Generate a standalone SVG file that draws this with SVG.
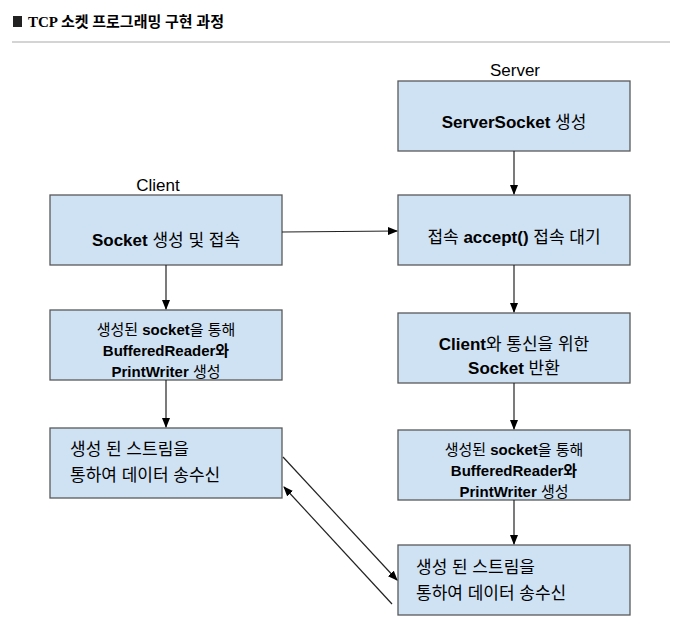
<svg xmlns="http://www.w3.org/2000/svg" width="677" height="629" viewBox="0 0 677 629">
<style>
.b{fill:#cfe2f3;stroke:#595959;stroke-width:1.3}
.t{font-family:"Liberation Sans","Noto Sans CJK KR",sans-serif;font-size:17px;fill:#000}
.s{font-family:"Liberation Sans","Noto Sans CJK KR",sans-serif;font-size:15px;fill:#000}
.c line{stroke:#222;stroke-width:1.2;marker-end:url(#a)}
</style>
<defs><marker id="a" markerWidth="10" markerHeight="8" refX="9" refY="4" orient="auto" markerUnits="userSpaceOnUse"><path d="M0,0L10,4L0,8z" fill="#000"/></marker></defs>
<rect width="677" height="629" fill="#fff"/>
<g id="title"><rect x="13" y="16" width="9" height="11" fill="#222"/><text x="28" y="27" font-family="Liberation Serif,'Noto Sans CJK KR',serif" font-size="15" font-weight="bold">TCP 소켓 프로그래밍 구현 과정</text>
<line x1="12" y1="42" x2="670" y2="42" stroke="#aaa" stroke-width="1.2"/></g>
<text class="t" x="515" y="76" text-anchor="middle">Server</text>
<text class="t" x="158" y="191" text-anchor="middle">Client</text>
<g id="s1"><rect class="b" x="398" y="81" width="232" height="70"/><text class="t" x="514" y="128" text-anchor="middle"><tspan font-weight="bold">ServerSocket</tspan> 생성</text></g>
<g id="c1"><rect class="b" x="50" y="195" width="232" height="70"/><text class="t" x="166" y="246" text-anchor="middle"><tspan font-weight="bold">Socket</tspan> 생성 및 접속</text></g>
<g id="s2"><rect class="b" x="398" y="195" width="232" height="70"/><text class="t" x="514" y="243" text-anchor="middle">접속 <tspan font-weight="bold">accept()</tspan> 접속 대기</text></g>
<g id="c2"><rect class="b" x="50" y="310" width="232" height="70"/><text class="s" x="166" y="335" text-anchor="middle">생성된 <tspan font-weight="bold">socket</tspan>을 통해</text><text class="s" x="166" y="356" text-anchor="middle" font-weight="bold">BufferedReader와</text><text class="s" x="166" y="377" text-anchor="middle"><tspan font-weight="bold">PrintWriter</tspan> 생성</text></g>
<g id="s3"><rect class="b" x="398" y="313" width="232" height="70"/><text class="t" x="514" y="350" text-anchor="middle"><tspan font-weight="bold">Client</tspan>와 통신을 위한</text><text class="t" x="514" y="374" text-anchor="middle"><tspan font-weight="bold">Socket</tspan> 반환</text></g>
<g id="c3"><rect class="b" x="50" y="428" width="232" height="70"/><text class="t" x="70" y="455">생성 된 스트림을</text><text class="t" x="70" y="481">통하여 데이터 송수신</text></g>
<g id="s4"><rect class="b" x="398" y="430" width="232" height="70"/><text class="s" x="514" y="455" text-anchor="middle">생성된 <tspan font-weight="bold">socket</tspan>을 통해</text><text class="s" x="514" y="476" text-anchor="middle" font-weight="bold">BufferedReader와</text><text class="s" x="514" y="497" text-anchor="middle"><tspan font-weight="bold">PrintWriter</tspan> 생성</text></g>
<g id="s5"><rect class="b" x="398" y="545" width="232" height="70"/><text class="t" x="416" y="573">생성 된 스트림을</text><text class="t" x="416" y="599">통하여 데이터 송수신</text></g>
<g class="c" id="connectors">
<line x1="514" y1="151" x2="514" y2="194"/>
<line x1="282" y1="232" x2="397" y2="231"/>
<line x1="166" y1="265" x2="166" y2="309"/>
<line x1="514" y1="265" x2="514" y2="312"/>
<line x1="166" y1="380" x2="166" y2="427"/>
<line x1="514" y1="383" x2="514" y2="429"/>
<line x1="514" y1="500" x2="514" y2="544"/>
<line x1="283" y1="457" x2="397" y2="580"/>
<line x1="392" y1="604" x2="284" y2="487"/>
</g>
</svg>
